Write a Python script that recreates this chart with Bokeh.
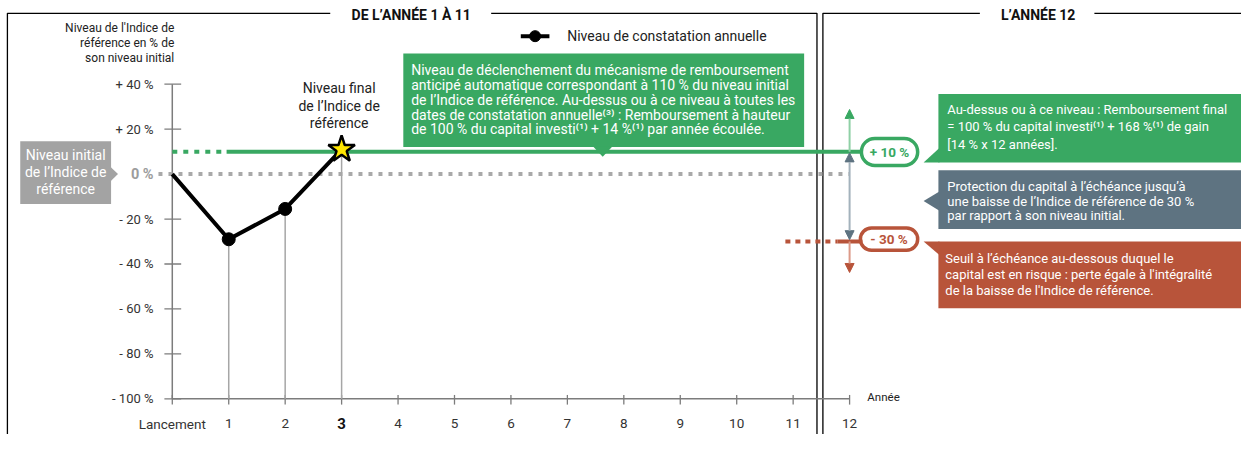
from bokeh.plotting import figure
from bokeh.models import Range1d, Arrow, NormalHead, BoxAnnotation
from bokeh.core.properties import value
from bokeh.embed import file_html
from bokeh.resources import INLINE

# ---------------- DATA ----------------
years = [0, 1, 2, 3]
levels = [0, -29, -15.5, 11]
highlight_year = 3
x_ticks = list(range(0, 13))
x_tick_labels = ["Lancement", "1", "2", "3", "4", "5", "6", "7", "8", "9", "10", "11", "12"]
y_ticks = [40, 20, 0, -20, -40, -60, -80, -100]
y_tick_labels = ["+ 40 %", "+ 20 %", "0 %", "- 20 %", "- 40 %", "- 60 %", "- 80 %", "- 100 %"]
autocall_level = 10
protection_level = -30
initial_level = 0
final_year = 12
axis_min = -100
axis_max = 40

title_left = "DE L’ANNÉE 1 À 11"
title_right = "L’ANNÉE 12"
y_title = ["Niveau de l'Indice de", "référence en % de", "son niveau initial"]
final_label = ["Niveau final", "de l’Indice de", "référence"]
initial_label = ["Niveau initial", "de l’Indice de", "référence"]
legend_label = "Niveau de constatation annuelle"
x_title = "Année"
autocall_text = [
    "Niveau de déclenchement du mécanisme de remboursement",
    "anticipé automatique correspondant à 110 % du niveau initial",
    "de l’Indice de référence. Au-dessus ou à ce niveau à toutes les",
    "dates de constatation annuelle⁽³⁾ : Remboursement à hauteur",
    "de 100 % du capital investi⁽¹⁾ + 14 %⁽¹⁾ par année écoulée.",
]
final_gain_text = [
    "Au-dessus ou à ce niveau : Remboursement final",
    "= 100 % du capital investi⁽¹⁾ + 168 %⁽¹⁾ de gain",
    "[14 % x 12 années].",
]
protection_text = [
    "Protection du capital à l’échéance jusqu’à",
    "une baisse de l’Indice de référence de 30 %",
    "par rapport à son niveau initial.",
]
risk_text = [
    "Seuil à l’échéance au-dessous duquel le",
    "capital est en risque : perte égale à l'intégralité",
    "de la baisse de l'Indice de référence.",
]
autocall_pill = "+ 10 %"
risk_pill = "- 30 %"

# ---------------- STYLE / LAYOUT ----------------
GREEN = "#39a862"
GREEN_LIGHT = "#8fd0a6"
GRAYBOX = "#a3a3a3"
SLATE = "#5e7381"
SLATE_LIGHT = "#a3b2bc"
RED = "#b8543a"
RED_LIGHT = "#dc9a88"
AXIS = "#7c7c7c"
TXT = "#222222"
FONT = value("Roboto")

W, H = 1241, 434
REF_W, REF_H = 1257, 450
X0, SX = 174.0, 57.17   # reference px of year 0, px per year
Y0, SY = 180.0, 2.33    # reference px of 0 %, px per %


def dx(px):
    return (px - X0) / SX


def dy(py):
    return (Y0 - py) / SY


p = figure(width=W, height=H, output_backend="svg", toolbar_location=None,
           x_range=Range1d(dx(0), dx(REF_W)), y_range=Range1d(dy(REF_H), dy(0)),
           x_axis_location=None, y_axis_location=None, min_border=0)
p.grid.visible = False
p.outline_line_color = None
p.background_fill_color = "white"
p.border_fill_color = "white"


def txt(xs, ys, texts, size="12.5px", color=TXT, align="left", style="normal"):
    p.text(x=xs, y=ys, text=texts, text_font=FONT, text_font_size=size,
           text_color=color, text_align=align, text_baseline="middle",
           text_font_style=style)


# ---- frames ----
top = dy(13.3)
bot = dy(470)
p.line([dx(7), dx(7), dx(334)], [bot, top, top], line_color="black", line_width=1.3)
p.line([dx(497), dx(827), dx(827)], [top, top, bot], line_color="black", line_width=1.3)
p.line([dx(992), dx(833), dx(833)], [top, top, bot], line_color="black", line_width=1.3)
p.line([dx(1108), dx(1290)], [top, top], line_color="black", line_width=1.3)
txt([dx(416)], [dy(15)], [title_left], size="14px", color="#111", align="center", style="bold")
txt([dx(1051)], [dy(15)], [title_right], size="14px", color="#111", align="center", style="bold")

# ---- axes ----
p.segment(x0=[0], y0=[axis_min], x1=[0], y1=[axis_max], line_color=AXIS, line_width=1.5)
tick_y = [v for v in y_ticks if v != initial_level]
p.segment(x0=[dx(166)] * len(tick_y), y0=tick_y, x1=[dx(183)] * len(tick_y), y1=tick_y,
          line_color=AXIS, line_width=1.3)
lab_t = [t for v, t in zip(y_ticks, y_tick_labels) if v != initial_level]
txt([dx(155)] * len(tick_y), tick_y, lab_t, size="13px", color="#333", align="right")
txt([dx(155)], [initial_level], [y_tick_labels[y_ticks.index(initial_level)]],
    size="14.5px", color="#9c9c9c", align="right", style="bold")
txt([dx(176)] * 3, [dy(29), dy(44.5), dy(60)], y_title, size="12px", align="right")

p.segment(x0=[0], y0=[axis_min], x1=[final_year], y1=[axis_min], line_color=AXIS, line_width=1.5)
p.segment(x0=x_ticks, y0=[dy(409)] * len(x_ticks), x1=x_ticks, y1=[dy(419)] * len(x_ticks),
          line_color=AXIS, line_width=1.3)
nx = [x for x in x_ticks if x != highlight_year]
nt = [t for x, t in zip(x_ticks, x_tick_labels) if x != highlight_year]
txt(nx, [dy(439)] * len(nx), nt, size="13.5px", color="#333", align="center")
txt([highlight_year], [dy(439)], [x_tick_labels[x_ticks.index(highlight_year)]],
    size="15px", color="#111", align="center", style="bold")
txt([dx(878)], [dy(411)], [x_title], size="11.5px", align="left")

# ---- reference lines ----
p.line([dx(160), final_year], [initial_level] * 2, line_color="#a9a9a9", line_width=4, line_dash="4 6")
p.line([0, dx(224)], [autocall_level] * 2, line_color=GREEN, line_width=4, line_dash="5 6")
p.line([dx(229), dx(873)], [autocall_level] * 2, line_color=GREEN, line_width=4)
p.line([dx(795), dx(848)], [protection_level] * 2, line_color=RED, line_width=4, line_dash="5 5")
p.line([dx(848), dx(873)], [protection_level] * 2, line_color=RED, line_width=4)

# ---- arrows at final year ----
p.add_layout(Arrow(x_start=final_year, y_start=autocall_level, x_end=final_year, y_end=dy(113),
                   line_color=GREEN_LIGHT, line_width=2,
                   end=NormalHead(size=9, fill_color=GREEN, line_color=GREEN)))
p.add_layout(Arrow(x_start=final_year, y_start=dy(158), x_end=final_year, y_end=dy(248),
                   line_color=SLATE_LIGHT, line_width=2,
                   start=NormalHead(size=9, fill_color=SLATE, line_color=SLATE),
                   end=NormalHead(size=9, fill_color=SLATE, line_color=SLATE)))
p.add_layout(Arrow(x_start=final_year, y_start=protection_level, x_end=final_year, y_end=dy(282),
                   line_color=RED_LIGHT, line_width=2,
                   end=NormalHead(size=9, fill_color=RED, line_color=RED)))

# ---- pills ----
p.add_layout(BoxAnnotation(left=dx(872), right=dx(929), top=dy(143), bottom=dy(171),
                           border_radius=14, fill_color="white", fill_alpha=1, level="underlay",
                           line_color=GREEN, line_width=3.5, line_alpha=1))
txt([dx(900.5)], [dy(157)], [autocall_pill], size="13.5px", color=GREEN, align="center", style="bold")
p.add_layout(BoxAnnotation(left=dx(871), right=dx(929), top=dy(236), bottom=dy(259),
                           border_radius=12, fill_color="white", fill_alpha=1, level="underlay",
                           line_color=RED, line_width=3.5, line_alpha=1))
txt([dx(900)], [dy(247.5)], [risk_pill], size="13.5px", color=RED, align="center", style="bold")

# ---- drop lines and data series ----
dl_x = years[1:]
dl_y = levels[1:]
p.segment(x0=dl_x, y0=dl_y, x1=dl_x, y1=[axis_min] * len(dl_x), line_color="#a6a6a6", line_width=1.5)
p.line(years, levels, line_color="black", line_width=4)
cx = [x for x in years[1:] if x != highlight_year]
cy = [v for x, v in zip(years[1:], levels[1:]) if x != highlight_year]
p.scatter(cx, cy, size=13, fill_color="black", line_color="black")
p.scatter([highlight_year], [levels[years.index(highlight_year)]], marker="star", size=28,
          fill_color="#ffe600", line_color="black", line_width=2.5)
txt([dx(343)] * 3, [dy(91), dy(109), dy(127)], final_label, size="14px", align="center")

# ---- legend ----
p.line([dx(527), dx(556)], [dy(37)] * 2, line_color="black", line_width=4)
p.scatter([dx(541.5)], [dy(37)], size=11, fill_color="black", line_color="black")
txt([dx(574)], [dy(37)], [legend_label], size="14px", align="left")


# ---- callout boxes ----
def box(l, r, t, b, color, tri):
    p.quad(left=[dx(l)], right=[dx(r)], top=[dy(t)], bottom=[dy(b)], fill_color=color, line_color=None)
    p.patch([dx(a) for a, _ in tri], [dy(c) for _, c in tri], fill_color=color, line_color=None)


box(20, 112, 146, 211, GRAYBOX, [(111, 172), (119, 180), (111, 188)])
txt([dx(66)] * 3, [dy(160), dy(177.5), dy(195)], initial_label, size="14px", color="white", align="center")

box(408, 814, 55, 152, GREEN, [(600, 151), (620, 151), (610, 162)])
txt([dx(416)] * 5, [dy(71.7), dy(87.3), dy(102.7), dy(118.3), dy(133.5)], autocall_text,
    size="14px", color="white")

box(950, 1290, 97, 168, GREEN, [(935, 168), (951, 153), (951, 168)])
txt([dx(959)] * 3, [dy(113), dy(131), dy(149)], final_gain_text, size="13px", color="white")

box(950, 1290, 176, 237, SLATE, [(951, 198), (935, 208), (951, 218)])
txt([dx(959)] * 3, [dy(193), dy(208), dy(222.5)], protection_text, size="13px", color="white")

box(950, 1290, 250, 319, RED, [(935, 250), (951, 250), (951, 264)])
txt([dx(957)] * 3, [dy(267), dy(284), dy(301)], risk_text, size="13px", color="white")

open("out.html", "w").write(file_html(p, INLINE))
